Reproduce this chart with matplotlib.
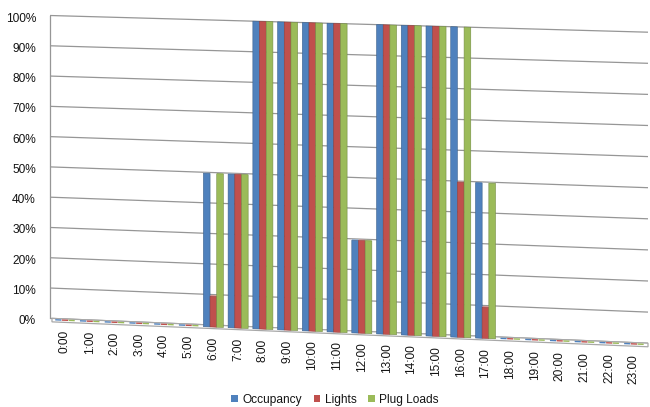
import numpy as np
import matplotlib
matplotlib.use("Agg")
import matplotlib.pyplot as plt
from matplotlib.transforms import Transform, Affine2D, offset_copy
from matplotlib.patches import Patch

# ---- data -------------------------------------------------------------
hours = ["0:00", "1:00", "2:00", "3:00", "4:00", "5:00", "6:00", "7:00",
         "8:00", "9:00", "10:00", "11:00", "12:00", "13:00", "14:00", "15:00",
         "16:00", "17:00", "18:00", "19:00", "20:00", "21:00", "22:00", "23:00"]
occupancy = [0, 0, 0, 0, 0, 0, 0.5, 0.5, 1, 1, 1, 1, 0.3, 1, 1, 1, 1, 0.5,
             0, 0, 0, 0, 0, 0]
lights = [0, 0, 0, 0, 0, 0, 0.1, 0.5, 1, 1, 1, 1, 0.3, 1, 1, 1, 0.5, 0.1,
          0, 0, 0, 0, 0, 0]
plug_loads = [0, 0, 0, 0, 0, 0, 0.5, 0.5, 1, 1, 1, 1, 0.3, 1, 1, 1, 1, 0.5,
              0, 0, 0, 0, 0, 0]
series_names = ["Occupancy", "Lights", "Plug Loads"]
series_colors = ["#4F81BD", "#C0504D", "#9BBB59"]
yticks = [0, 0.1, 0.2, 0.3, 0.4, 0.5, 0.6, 0.7, 0.8, 0.9, 1.0]
ytick_labels = ["0%", "10%", "20%", "30%", "40%", "50%", "60%", "70%",
                "80%", "90%", "100%"]

FONT = ["Liberation Sans", "DejaVu Sans"]
FONT_SIZE = 8.6
TEXT_COLOR = "#141414"
GRID_COLOR = "#969696"


class WallProjection(Transform):
    """Maps axes-unit coordinates onto a back wall seen in slight perspective:
    the floor and the top edge both slope downwards to the right, by
    different amounts."""
    input_dims = 2
    output_dims = 2
    is_separable = False
    has_inverse = False

    def __init__(self, drop_bottom, drop_top):
        super().__init__()
        self.drop_bottom = drop_bottom
        self.drop_top = drop_top

    def transform_non_affine(self, values):
        values = np.asarray(values, dtype=float)
        u = values[:, 0]
        v = values[:, 1]
        vb = -self.drop_bottom * u
        vt = 1.0 - self.drop_top * u
        return np.column_stack([u, vb + v * (vt - vb)])


def lighten(color, amount):
    rgb = np.array(matplotlib.colors.to_rgb(color))
    return tuple(rgb + (1 - rgb) * amount)


def darken(color, amount):
    rgb = np.array(matplotlib.colors.to_rgb(color))
    return tuple(rgb * (1 - amount))


fig = plt.figure(figsize=(6.5, 4.07), dpi=100)
fig.patch.set_facecolor("white")

ax_h = 302.8
ax = fig.add_axes([50 / 650, 88.7 / 407, 598 / 650, ax_h / 407])
x0, x1 = -0.606, 23.57
ax.set_xlim(x0, x1)
ax.set_ylim(0, 1)
ax.axis("off")

wall = ax.transLimits + WallProjection(24.9 / ax_h, 16.7 / ax_h) + ax.transAxes

# depth offsets (in value units) for the floor edge and bar faces
floor_depth = 0.0115
front_depth = 0.0065
back_depth = 0.002
front = Affine2D().scale(1, 1 + front_depth).translate(0, -front_depth) + wall

# back wall gridlines and left edge
for y in yticks:
    ax.plot([x0, x1], [y, y], color=GRID_COLOR, lw=0.9, transform=wall,
            clip_on=False, zorder=1, solid_capstyle="butt")
ax.plot([x0, x0], [0, 1], color=GRID_COLOR, lw=0.9, transform=wall,
        clip_on=False, zorder=1)

# floor slab
ax.fill([x0 + 0.08, x1, x1, x0 + 0.08], [0, 0, -floor_depth, -floor_depth],
        facecolor="white", edgecolor="#A8A8A8", lw=0.9, transform=wall,
        clip_on=False, zorder=2)

# y tick labels
ylab_trans = offset_copy(wall, fig=fig, x=-14, y=-3, units="dots")
for y, lab in zip(yticks, ytick_labels):
    ax.text(x0, y, lab, transform=ylab_trans, ha="right", va="center",
            fontsize=FONT_SIZE, family=FONT, color=TEXT_COLOR)

# columns
idx = np.arange(len(hours))
bar_w = 0.27
for k, (vals, col) in enumerate(zip([occupancy, lights, plug_loads],
                                    series_colors)):
    vals = np.asarray(vals, dtype=float)
    xpos = idx + (k - 1) * bar_w
    # front faces
    nz = vals > 0
    ax.bar(xpos[nz], vals[nz], width=bar_w, color=col,
           edgecolor=darken(col, 0.25), linewidth=0.4, transform=front,
           clip_on=False, zorder=4 + k * 0.01)
    # top faces (a thin sliver; for empty hours this is all that shows)
    y_front = vals - front_depth * (1 - vals)
    y_back = vals - back_depth * (1 - vals)
    for xp, yf, yb, has_face in zip(xpos, y_front, y_back, nz):
        ax.bar(xp, yb - yf, bottom=yf, width=bar_w * 0.92,
               color=lighten(col, 0.35) if has_face else col,
               linewidth=0, transform=wall, clip_on=False, zorder=3)

# x tick labels along the front edge of the floor
for i, lab in enumerate(hours):
    ax.text(i, -0.037, lab, transform=wall, rotation=90, ha="center",
            va="top", fontsize=FONT_SIZE, family=FONT, color=TEXT_COLOR)

handles = [Patch(facecolor=c, edgecolor="none") for c in series_colors]
fig.legend(handles, series_names, loc="center",
           bbox_to_anchor=(335 / 650, 1 - 400 / 407), ncol=3, frameon=False,
           prop={"family": FONT, "size": FONT_SIZE}, labelcolor=TEXT_COLOR,
           handlelength=0.55, handleheight=0.55, handletextpad=0.35,
           columnspacing=1.0, borderpad=0)

fig.savefig("out.png", dpi=100)
